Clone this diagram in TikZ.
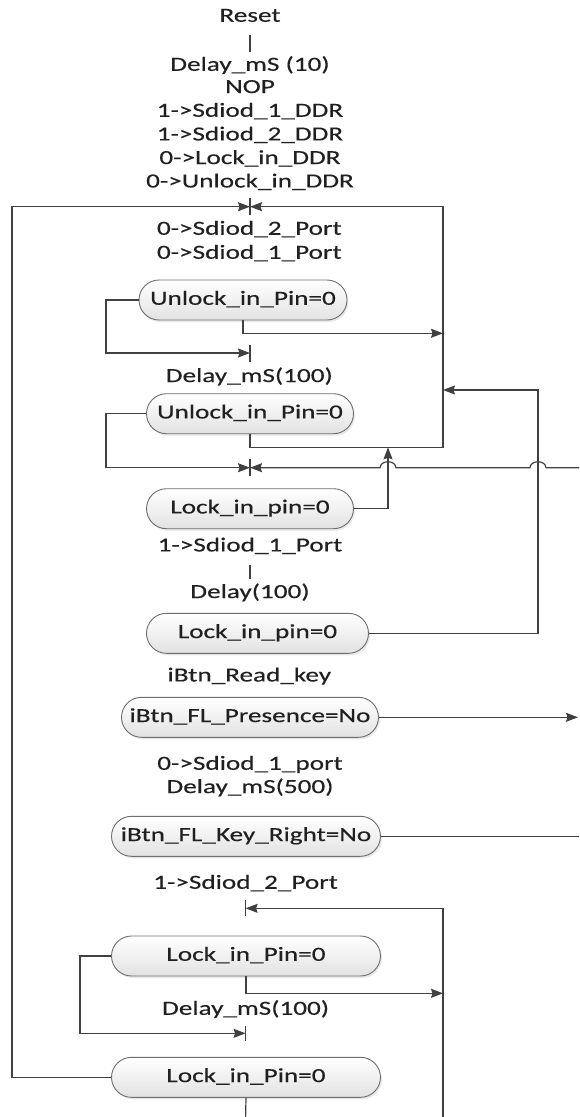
\documentclass[tikz,border=0pt]{standalone}
\usepackage{fontspec}
\setmainfont{Carlito}[FakeStretch=1.36,FakeBold=0.3]
\usetikzlibrary{arrows.meta,shadows}
\definecolor{ln}{HTML}{404040}
\definecolor{nodeedge}{HTML}{6E6E6E}
\definecolor{nodefill}{HTML}{E2E2E2}
\definecolor{txt}{HTML}{202020}
\newcommand\lbfont{\fontsize{20}{23}\selectfont}
\begin{document}
\begin{tikzpicture}[x=1pt,y=-1pt,
  lbl/.style={font=\lbfont, text height=13pt, text depth=3.5pt, inner sep=0pt, text=txt},
  state/.style={draw=nodeedge, line width=0.9pt, rounded corners=20pt, minimum height=40pt,
    inner sep=0pt, top color=white, bottom color=nodefill, font=\lbfont, text=txt,
    text height=13pt, text depth=3.5pt,
    drop shadow={opacity=0.18, shadow xshift=1.5pt, shadow yshift=-2pt}},
  ln/.style={draw=ln, line width=1.2pt},
  arr/.style={ln, -{Stealth[length=12pt,width=9pt,inset=1.5pt]}}]
\useasboundingbox (0,0) rectangle (579,1117);

% plain text nodes
\node[lbl] (reset) at (250,17) {Reset};
\node[lbl] (d10) at (250,66) {Delay\_mS (10)};
\node[lbl] (nop) at (250,88.3) {NOP};
\node[lbl] (s1ddr) at (250,112) {1->Sdiod\_1\_DDR};
\node[lbl] (s2ddr) at (250,135.7) {1->Sdiod\_2\_DDR};
\node[lbl] (lddr) at (250,159.3) {0->Lock\_in\_DDR};
\node[lbl] (uddr) at (250,182.7) {0->Unlock\_in\_DDR};
\node[lbl] (s2p0) at (249.3,230) {0->Sdiod\_2\_Port};
\node[lbl] (s1p0) at (249.3,254) {0->Sdiod\_1\_Port};
\node[lbl] (d100a) at (249.3,377.3) {Delay\_mS(100)};
\node[lbl] (s1p) at (250,546.7) {1->Sdiod\_1\_Port};
\node[lbl] (dl100) at (250,593.3) {Delay(100)};
\node[lbl] (rk) at (249.3,676.7) {iBtn\_Read\_key};
\node[lbl] (s1port) at (250,765) {0->Sdiod\_1\_port};
\node[lbl] (d500) at (250,788.3) {Delay\_mS(500)};
\node[lbl] (s2port) at (245.6,884) {1->Sdiod\_2\_Port};
\node[lbl] (d100b) at (245.6,1010) {Delay\_mS(100)};

% terminator nodes
\node[state, minimum width=208pt] (a) at (243,300) {Unlock\_in\_Pin=0};
\node[state, minimum width=207pt] (b) at (250,413.7) {Unlock\_in\_Pin=0};
\node[state, minimum width=207pt] (c) at (250,508.7) {Lock\_in\_pin=0};
\node[state, minimum width=222pt] (d) at (257.5,633.3) {Lock\_in\_pin=0};
\node[state, minimum width=257pt] (e) at (250,717.3) {iBtn\_FL\_Presence=No};
\node[state, minimum width=269pt] (f) at (246,836.3) {iBtn\_FL\_Key\_Right=No};
\node[state, minimum width=269pt] (g) at (246,956) {Lock\_in\_Pin=0};
\node[state, minimum width=269pt] (h) at (246,1077.3) {Lock\_in\_Pin=0};

% junction points
\coordinate (J1) at (250,206.7);
\coordinate (J2) at (250,353);
\coordinate (J3) at (250,467.7);
\coordinate (J4) at (245.6,908.3);
\coordinate (J5) at (245.6,1033.3);

% ticks
\draw[ln] (reset) ++(0,18) -- ++(0,17);
\draw[ln] (s1p) ++(0,18.3) -- ++(0,14);
\draw[ln] (J1) ++(0,-8.5) -- ++(0,17);
\draw[ln] (J2) ++(0,-8.5) -- ++(0,17);
\draw[ln] (J3) ++(0,-8.5) -- ++(0,17);
\draw[ln] (J4) ++(0,-8) -- ++(0,16);
\draw[ln] (J5) ++(0,-7.5) -- ++(0,15);

% helper coordinates
\coordinate (lt) at (12,206.7);
\coordinate (rt) at (443,206.7);
\coordinate (rb) at (443,447.3);
\coordinate (ra) at (443,333.3);
\coordinate (la) at (106,353);
\coordinate (lb) at (106,467.7);
\coordinate (rin) at (579,467.7);
\coordinate (cu) at (388,447.3);
\coordinate (du) at (538,390);
\coordinate (dl) at (443,390);
\coordinate (eo) at (578,717.3);
\coordinate (fo) at (579,836.3);
\coordinate (gl) at (80,1033.3);
\coordinate (gr) at (443,993.3);
\coordinate (bin) at (443,1117);
\coordinate (bt) at (443,908.3);
\coordinate (hout) at (245.6,1117);

% connectors
\draw[arr] (h.west) -| (lt) -- (J1);
\draw[arr] (b.south) |- (rb) -- (rt) -- (J1);
\draw[arr] (a.south) |- (ra);
\draw[arr] (a.west) -| (la) -- (J2);
\draw[arr] (b.west) -| (lb) -- (J3);
\draw[arr] (rin) -- (546,467.7) arc[start angle=0,end angle=180,x radius=8pt,y radius=6pt]
   -- (396,467.7) arc[start angle=0,end angle=180,x radius=8pt,y radius=6pt] -- (J3);
\draw[arr] (c.east) -| (cu);
\draw[arr] (d.east) -| (du) -- (dl);
\draw[arr] (e.east) -- (eo);
\draw[ln] (f.east) -- (fo);
\draw[arr] (g.west) -| (gl) -- (J5);
\draw[arr] (g.south) |- (gr);
\draw[arr] (bin) -- (bt) -- (J4);
\draw[ln] (h.south) -- (hout);
\end{tikzpicture}
\end{document}
